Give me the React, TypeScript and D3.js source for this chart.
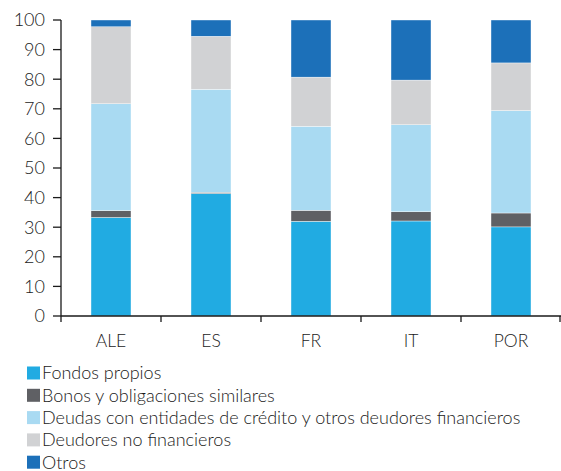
import React from "react";
import * as d3 from "d3";

const categories = ["ALE", "ES", "FR", "IT", "POR"];
const seriesNames = [
  "Fondos propios",
  "Bonos y obligaciones similares",
  "Deudas con entidades de crédito y otros deudores financieros",
  "Deudores no financieros",
  "Otros",
];
const fondosPropios = [33.3, 41.4, 32.0, 32.1, 30.1];
const bonos = [2.3, 0.4, 3.7, 3.1, 4.7];
const deudasCredito = [36.1, 34.8, 28.4, 29.4, 34.6];
const deudoresNoFin = [26.0, 17.9, 16.6, 15.1, 16.1];
const otros = [2.3, 5.5, 19.3, 20.3, 14.5];
const yTicks = [0, 10, 20, 30, 40, 50, 60, 70, 80, 90, 100];
const colors = ["#21abe2", "#5f6064", "#a9daf2", "#d1d2d4", "#1c70b9"];

const W = 561;
const H = 471;
const FONT = "Lato, 'Open Sans', sans-serif";

export default function App() {
  const seriesValues = [fondosPropios, bonos, deudasCredito, deudoresNoFin, otros];
  const rows = categories.map((c, i) => {
    const r: any = { cat: c };
    seriesNames.forEach((s, j) => (r[s] = seriesValues[j][i]));
    return r;
  });
  const stack = d3.stack().keys(seriesNames)(rows);

  const x = d3.scaleBand().domain(categories).range([61, 561]).paddingInner(0.6).paddingOuter(0.3);
  const xOuter = d3.scaleBand().domain(categories).range([61, 561]);
  const y = d3.scaleLinear().domain([0, 100]).range([316, 20]);

  return (
    <svg width={W} height={H} style={{ position: "absolute", left: 0, top: 0, fontFamily: FONT }}>
      {stack.map((layer, j) =>
        layer.map((d, i) => (
          <rect
            key={`${j}-${i}`}
            x={x(categories[i])}
            width={x.bandwidth()}
            y={y(d[1])}
            height={y(d[0]) - y(d[1])}
            fill={colors[j]}
            stroke="#ffffff"
            strokeWidth={0.4}
          />
        ))
      )}
      {/* y axis */}
      <line x1={61} x2={61} y1={y(100)} y2={y(0)} stroke="#1a1a1a" strokeWidth={1.3} />
      {yTicks.map((t) => (
        <g key={t}>
          <line x1={53} x2={61} y1={y(t)} y2={y(t)} stroke="#1a1a1a" strokeWidth={1.3} />
          <text x={45} y={y(t)} dy="0.36em" textAnchor="end" fontSize={18} fill="#1a1a1a" fontWeight={300}>
            {t}
          </text>
        </g>
      ))}
      {/* x axis */}
      <line x1={61} x2={561} y1={316} y2={316} stroke="#1a1a1a" strokeWidth={1.3} />
      {categories.map((c) => (
        <line key={c} x1={xOuter(c)!} x2={xOuter(c)!} y1={316} y2={322} stroke="#1a1a1a" strokeWidth={1.3} />
      ))}
      <line x1={560} x2={560} y1={316} y2={322} stroke="#1a1a1a" strokeWidth={1.3} />
      {categories.map((c) => (
        <text key={c} x={x(c)! + x.bandwidth() / 2} y={347} textAnchor="middle" fontSize={17.5} fill="#1a1a1a" fontWeight={300}>
          {c}
        </text>
      ))}
      {/* legend */}
      {seriesNames.map((s, j) => (
        <g key={s} transform={`translate(27, ${373 + j * 22.3})`}>
          <rect x={0} y={-6.5} width={13} height={13} fill={colors[j]} />
          <text x={15} y={0} dy="0.35em" fontSize={18} fill="#1a1a1a" fontWeight={300}>
            {s}
          </text>
        </g>
      ))}
    </svg>
  );
}
